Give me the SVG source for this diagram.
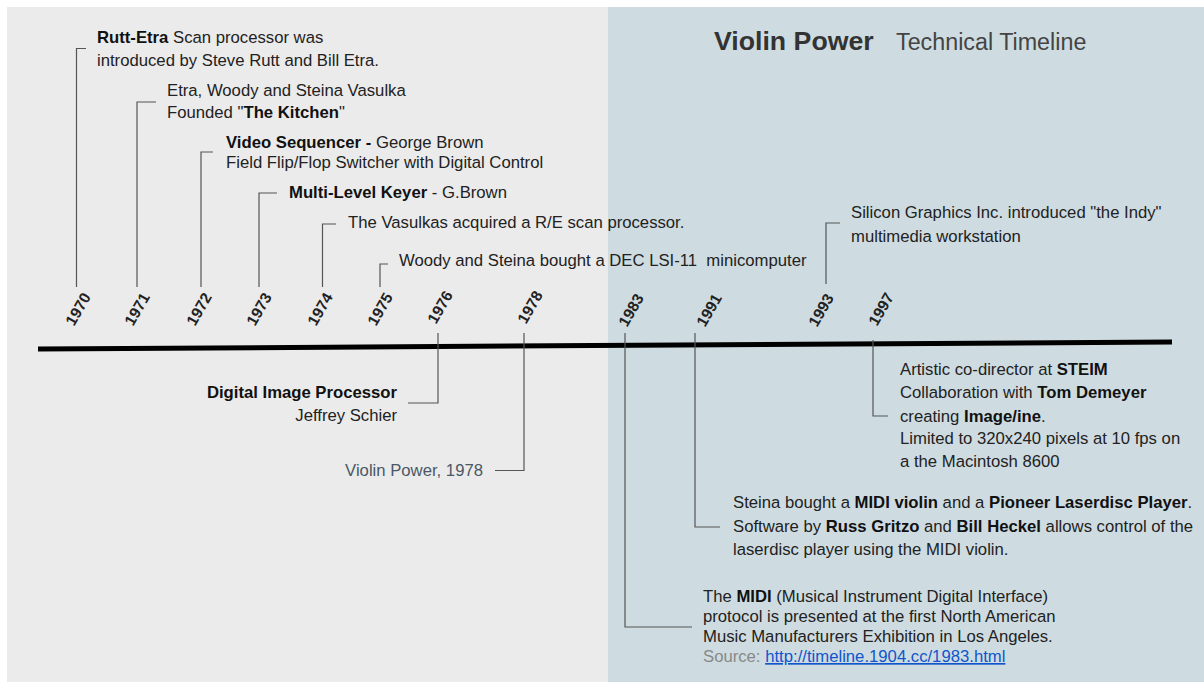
<svg xmlns="http://www.w3.org/2000/svg" width="1204" height="682" viewBox="0 0 1204 682">
<style>
text{font-family:"Liberation Sans",Arial,sans-serif;font-size:16.7px;fill:#222}
.b{font-weight:bold;fill:#111}
.yr{font-weight:bold;font-size:15.5px;fill:#222;text-anchor:middle}
.r{text-anchor:end}
.conn{fill:none;stroke:#555;stroke-width:1.2}
</style>
<rect x="0" y="0" width="1204" height="682" fill="#ffffff"/>
<rect x="7" y="7" width="601" height="675" fill="#ebebeb"/>
<rect x="608" y="7" width="596" height="675" fill="#cedce1"/>

<g id="title">
<text x="714" y="49.5" style="font-size:26.7px;font-weight:bold;fill:#333">Violin Power</text>
<text x="896" y="49.5" style="font-size:23.3px;fill:#444">Technical Timeline</text>
</g>

<g id="connectors">
<line x1="38" y1="349" x2="1172" y2="342" stroke="#000" stroke-width="5"/>
<polyline class="conn" points="86,48.5 76.5,48.5 76.5,287"/>
<polyline class="conn" points="156,102 137,102 137,287"/>
<polyline class="conn" points="213,152 201,152 201,287"/>
<polyline class="conn" points="277,193 259,193 259,287"/>
<polyline class="conn" points="336,224 322.5,224 322.5,287"/>
<polyline class="conn" points="388,264 380,264 380,287"/>
<polyline class="conn" points="840,223 826,223 826,284"/>
<polyline class="conn" points="438,333 438,403 408,403"/>
<polyline class="conn" points="524,333 524,470.5 495,470.5"/>
<polyline class="conn" points="625,333 625,627 692,627"/>
<polyline class="conn" points="695,333 695,527 720,527"/>
<polyline class="conn" points="873,340 873,416 888,416"/>
</g>

<g id="node-1970">
<text class="yr" transform="translate(78,309) rotate(-60)" dy="0.35em">1970</text>
<text x="97" y="43"><tspan class="b">Rutt-Etra</tspan> Scan processor was</text>
<text x="97" y="65.5">introduced by Steve Rutt and Bill Etra.</text>
</g>
<g id="node-1971">
<text class="yr" transform="translate(137,309) rotate(-60)" dy="0.35em">1971</text>
<text x="167" y="96">Etra, Woody and Steina Vasulka</text>
<text x="167" y="118">Founded "<tspan class="b">The Kitchen</tspan>"</text>
</g>
<g id="node-1972">
<text class="yr" transform="translate(199,309) rotate(-60)" dy="0.35em">1972</text>
<text x="226" y="148"><tspan class="b">Video Sequencer -</tspan> George Brown</text>
<text x="226" y="168">Field Flip/Flop Switcher with Digital Control</text>
</g>
<g id="node-1973">
<text class="yr" transform="translate(259,309) rotate(-60)" dy="0.35em">1973</text>
<text x="289" y="198"><tspan class="b">Multi-Level Keyer</tspan> - G.Brown</text>
</g>
<g id="node-1974">
<text class="yr" transform="translate(320,309) rotate(-60)" dy="0.35em">1974</text>
<text x="348" y="228">The Vasulkas acquired a R/E scan processor.</text>
</g>
<g id="node-1975">
<text class="yr" transform="translate(380,309) rotate(-60)" dy="0.35em">1975</text>
<text x="399" y="266" xml:space="preserve">Woody and Steina bought a DEC LSI-11  minicomputer</text>
</g>
<g id="node-1976">
<text class="yr" transform="translate(440,307) rotate(-60)" dy="0.35em">1976</text>
<text class="r b" x="397" y="398">Digital Image Processor</text>
<text class="r" x="397" y="421">Jeffrey Schier</text>
</g>
<g id="node-1978">
<text class="yr" transform="translate(530,307) rotate(-60)" dy="0.35em">1978</text>
<text class="r" x="483" y="476" style="fill:#4a5866">Violin Power, 1978</text>
</g>
<g id="node-1983">
<text class="yr" transform="translate(631,310) rotate(-60)" dy="0.35em">1983</text>
<text x="703" y="602">The <tspan class="b">MIDI</tspan> (Musical Instrument Digital Interface)</text>
<text x="703" y="622">protocol is presented at the first North American</text>
<text x="703" y="642">Music Manufacturers Exhibition in Los Angeles.</text>
<text x="703" y="662"><tspan style="fill:#888">Source: </tspan><tspan style="fill:#1155cc;text-decoration:underline">http://timeline.1904.cc/1983.html</tspan></text>
</g>
<g id="node-1991">
<text class="yr" transform="translate(709,310) rotate(-60)" dy="0.35em">1991</text>
<text x="733" y="508">Steina bought a <tspan class="b">MIDI violin</tspan> and a <tspan class="b">Pioneer Laserdisc Player</tspan>.</text>
<text x="733" y="532">Software by <tspan class="b">Russ Gritzo</tspan> and <tspan class="b">Bill Heckel</tspan> allows control of the</text>
<text x="733" y="555">laserdisc player using the MIDI violin.</text>
</g>
<g id="node-1993">
<text class="yr" transform="translate(821,310) rotate(-60)" dy="0.35em">1993</text>
<text x="851" y="218">Silicon Graphics Inc. introduced "the Indy"</text>
<text x="851" y="242">multimedia workstation</text>
</g>
<g id="node-1997">
<text class="yr" transform="translate(881,309) rotate(-60)" dy="0.35em">1997</text>
<text x="900" y="375">Artistic co-director at <tspan class="b">STEIM</tspan></text>
<text x="900" y="398">Collaboration with <tspan class="b">Tom Demeyer</tspan></text>
<text x="900" y="422">creating <tspan class="b">Image/ine</tspan>.</text>
<text x="900" y="444">Limited to 320x240 pixels at 10 fps on</text>
<text x="900" y="467">a the Macintosh 8600</text>
</g>
</svg>
